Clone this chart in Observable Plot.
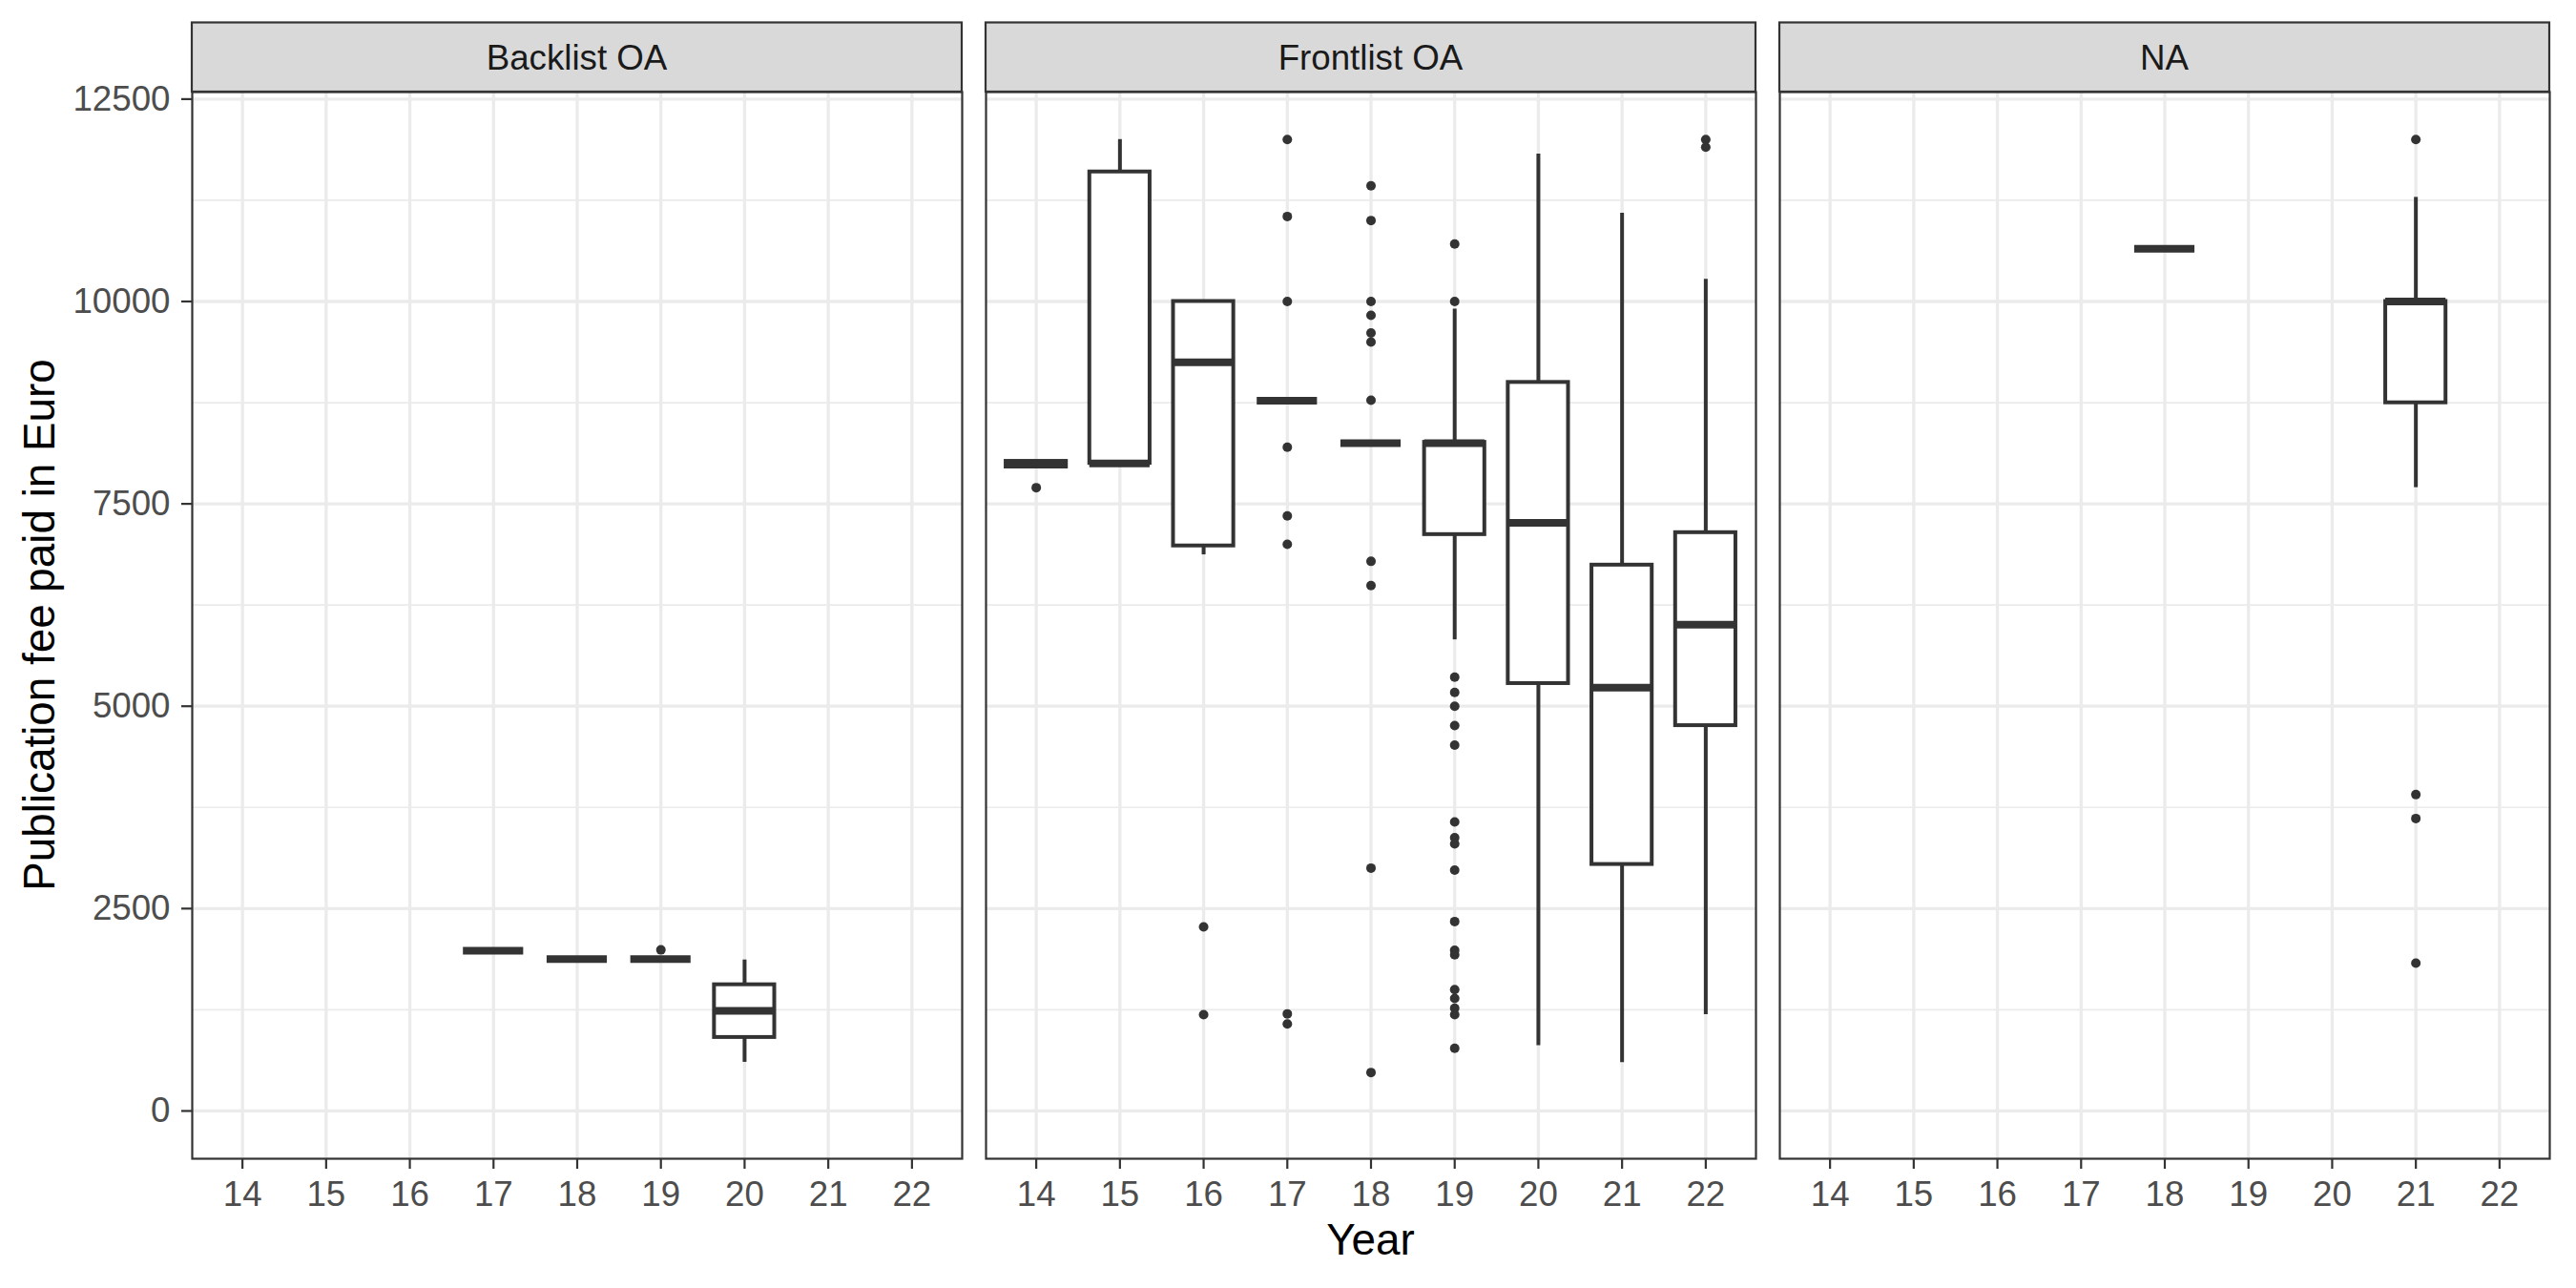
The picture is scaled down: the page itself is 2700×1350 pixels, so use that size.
<!DOCTYPE html>
<html><head><meta charset="utf-8">
<script src="https://cdn.jsdelivr.net/npm/d3@7"></script>
<script src="https://cdn.jsdelivr.net/npm/@observablehq/plot@0.6"></script>
<style>html,body{margin:0;padding:0;background:#fff;overflow:hidden}</style>
</head><body><div id="chart"></div>
<script>
// ---- data ----
const panels = ["Backlist OA", "Frontlist OA", "NA"];
const years = [14, 15, 16, 17, 18, 19, 20, 21, 22];
const yTicks = [0, 2500, 5000, 7500, 10000, 12500];
const yMinorTicks = [1250, 3750, 6250, 8750, 11250];

const boxPanel  = ["Backlist OA","Backlist OA","Backlist OA","Backlist OA",
  "Frontlist OA","Frontlist OA","Frontlist OA","Frontlist OA","Frontlist OA","Frontlist OA","Frontlist OA","Frontlist OA","Frontlist OA",
  "NA","NA"];
const boxYear   = [17, 18, 19, 20, 14, 15, 16, 17, 18, 19, 20, 21, 22, 18, 21];
const boxLow    = [1980, 1875, 1875, 601, 7955, 8000, 6870, 8775, 8250, 5820, 807, 596, 1190, 10650, 7700];
const boxQ1     = [1980, 1875, 1875, 908, 7955, 8000, 6980, 8775, 8250, 7120, 5280, 3045, 4760, 10650, 8748];
const boxMedian = [1980, 1875, 1875, 1238, 7990, 8000, 9250, 8775, 8250, 8250, 7265, 5228, 6006, 10650, 10000];
const boxQ3     = [1980, 1875, 1875, 1559, 8025, 11600, 10000, 8775, 8250, 8260, 9000, 6743, 7144, 10650, 10000];
const boxHigh   = [1980, 1875, 1875, 1865, 8025, 12000, 10000, 8775, 8250, 9905, 11820, 11090, 10275, 10650, 11286];

const outPanel = [
  "Backlist OA",
  "Frontlist OA",
  "Frontlist OA","Frontlist OA",
  "Frontlist OA","Frontlist OA","Frontlist OA","Frontlist OA","Frontlist OA","Frontlist OA","Frontlist OA","Frontlist OA",
  "Frontlist OA","Frontlist OA","Frontlist OA","Frontlist OA","Frontlist OA","Frontlist OA","Frontlist OA","Frontlist OA","Frontlist OA","Frontlist OA","Frontlist OA",
  "Frontlist OA","Frontlist OA","Frontlist OA","Frontlist OA","Frontlist OA","Frontlist OA","Frontlist OA","Frontlist OA","Frontlist OA","Frontlist OA",
  "Frontlist OA","Frontlist OA","Frontlist OA","Frontlist OA","Frontlist OA","Frontlist OA","Frontlist OA","Frontlist OA","Frontlist OA",
  "Frontlist OA","Frontlist OA",
  "NA","NA","NA","NA"];
const outYear = [
  19,
  14,
  16, 16,
  17, 17, 17, 17, 17, 17, 17, 17,
  18, 18, 18, 18, 18, 18, 18, 18, 18, 18, 18,
  19, 19, 19, 19, 19, 19, 19, 19, 19, 19,
  19, 19, 19, 19, 19, 19, 19, 19, 19,
  22, 22,
  21, 21, 21, 21];
const outValue = [
  1990,
  7700,
  2275, 1190,
  12000, 11050, 10000, 8200, 7350, 7000, 1200, 1075,
  11430, 11000, 10000, 9830, 9610, 9500, 8780, 6790, 6490, 3000, 475,
  10710, 10000, 5360, 5170, 5000, 4760, 4520, 3570, 3375, 3300,
  2975, 2340, 1985, 1930, 1500, 1390, 1270, 1190, 775,
  12000, 11906,
  12000, 3908, 3613, 1827];

// ---- tables ----
const boxes = boxYear.map((yr, i) => ({
  panel: boxPanel[i], year: yr, lo: boxLow[i], q1: boxQ1[i],
  med: boxMedian[i], q3: boxQ3[i], hi: boxHigh[i]
}));
const outliers = outValue.map((v, i) => ({panel: outPanel[i], year: outYear[i], value: v}));

const half = 0.36;
const ink = "#333333";
const gridCol = "#EBEBEB";

const chart = Plot.plot({
  width: 2700, height: 1350,
  marginLeft: 200, marginRight: 26, marginTop: 96, marginBottom: 136,
  style: {fontFamily: "'Liberation Sans', Arial, sans-serif", fontSize: "36.7px", background: "#fff"},
  fx: {domain: panels, paddingInner: 0.03, paddingOuter: 0, axis: null, label: null},
  x: {domain: [13.4, 22.6]},
  y: {domain: [-590, 12587]},
  marks: [
    Plot.gridY(yMinorTicks, {stroke: gridCol, strokeOpacity: 1, strokeWidth: 1.7}),
    Plot.gridY(yTicks, {stroke: gridCol, strokeOpacity: 1, strokeWidth: 3.3}),
    Plot.gridX(years, {stroke: gridCol, strokeOpacity: 1, strokeWidth: 3.3}),
    Plot.ruleX(boxes, {fx: "panel", x: "year", y1: "lo", y2: "q1", stroke: ink, strokeWidth: 4}),
    Plot.ruleX(boxes, {fx: "panel", x: "year", y1: "q3", y2: "hi", stroke: ink, strokeWidth: 4}),
    Plot.rect(boxes, {fx: "panel", x1: d => d.year - half, x2: d => d.year + half, y1: "q1", y2: "q3",
      fill: "white", stroke: ink, strokeWidth: 4}),
    Plot.ruleY(boxes, {fx: "panel", y: "med", x1: d => d.year - half, x2: d => d.year + half, stroke: ink, strokeWidth: 8}),
    Plot.dot(outliers, {fx: "panel", x: "year", y: "value", r: 5, fill: ink, stroke: "none"}),
    Plot.frame({stroke: ink, strokeWidth: 2.2}),
    Plot.axisY({ticks: yTicks, tickFormat: d => String(d), tickSize: 11, tickPadding: 12,
      stroke: ink, fill: "#4D4D4D", strokeWidth: 2.2, label: null}),
    Plot.axisX({ticks: years, tickFormat: d => String(d), tickSize: 11, tickPadding: 12,
      stroke: ink, fill: "#4D4D4D", strokeWidth: 2.2, label: null})
  ]
});

document.getElementById("chart").appendChild(chart);

// ---- facet strips and titles ----
const fxs = chart.scale("fx");
const svg = d3.select(chart);
const g = svg.append("g").attr("font-family", "'Liberation Sans', Arial, sans-serif");
for (const p of panels) {
  const x0 = fxs.apply(p);
  const bw = fxs.bandwidth;
  g.append("rect").attr("x", x0).attr("y", 23.5).attr("width", bw).attr("height", 72.5)
    .attr("fill", "#D9D9D9").attr("stroke", ink).attr("stroke-width", 2.2);
  g.append("text").attr("x", x0 + bw / 2).attr("y", 72.5).attr("text-anchor", "middle")
    .attr("font-size", 36.7).attr("fill", "#1A1A1A").text(p);
}
const first = fxs.apply(panels[0]);
const last = fxs.apply(panels[panels.length - 1]) + fxs.bandwidth;
g.append("text").attr("x", (first + last) / 2).attr("y", 1315).attr("text-anchor", "middle")
  .attr("font-size", 45.8).attr("fill", "#000").text("Year");
g.append("text").attr("transform", `translate(57,${(96 + 1214) / 2}) rotate(-90)`)
  .attr("text-anchor", "middle").attr("font-size", 45.8).attr("fill", "#000")
  .text("Publication fee paid in Euro");
</script>
</body></html>
